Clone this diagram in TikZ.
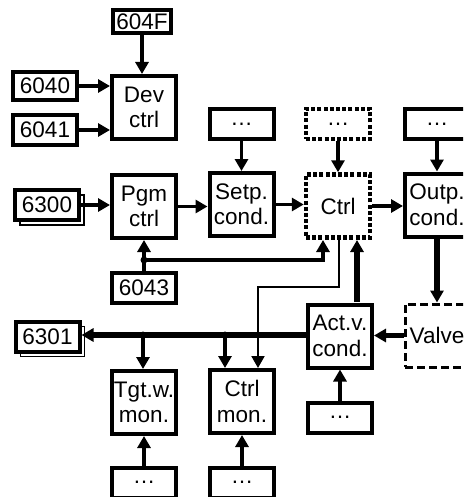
\documentclass[tikz,border=0pt]{standalone}
\usepackage{fontspec}
\setmainfont{Liberation Sans}
\usetikzlibrary{arrows.meta,shadows}
\begin{document}
\begin{tikzpicture}[x=1pt,y=-1pt,
  every node/.style={font=\fontsize{22.5}{25.5}\selectfont},
  bigbox/.style={draw, line width=4pt, fill=white, minimum width=64pt, minimum height=63pt, inner sep=0pt, align=center},
  smallbox/.style={draw, line width=4pt, fill=white, minimum width=64pt, minimum height=30pt, inner sep=0pt, align=center},
  stack/.style={copy shadow={shadow xshift=5pt, shadow yshift=-5pt, draw, fill=white, line width=1.5pt}},
  dotbox/.style={line width=4.5pt, dash pattern=on 4pt off 2.2pt},
  dashbox/.style={line width=3pt, dash pattern=on 8pt off 4pt},
  arr/.style={line width=3.5pt, -{Triangle[length=12pt,width=13pt]}},
  thinarr/.style={line width=2pt, -{Triangle[length=12pt,width=13pt]}},
  jdot/.style={circle, fill=black, inner sep=0pt, minimum size=7pt}
]
\useasboundingbox (0,0) rectangle (463,497);
\clip (0,0) rectangle (463,497);

% top-left group
\node[smallbox, minimum width=58pt, minimum height=23pt] (f604) at (142,21.5) {604F};
\node[bigbox] (dev) at (144,107.5) {Dev\\ctrl};
\node[smallbox, minimum height=28pt] (n6040) at (45,86) {6040};
\node[smallbox] (n6041) at (45,130) {6041};

% second row
\node[smallbox, stack] (n6300) at (47,205) {6300};
\node[bigbox] (pgm) at (144,206.5) {Pgm\\ctrl};
\node[smallbox] (n6043) at (144,287.5) {6043};
\node[bigbox] (setp) at (241.5,204.5) {Setp.\\cond.};
\node[smallbox] (d1) at (241.5,124.5) {…};
\node[bigbox, dotbox] (ctrl) at (338,206) {Ctrl};
\node[smallbox, dotbox] (d2) at (338,124) {…};
\node[bigbox] (outp) at (437,205) {Outp.\\cond.};
\node[smallbox] (d3) at (437,124.5) {…};

% third row
\node[bigbox, dashbox] (valve) at (437,335.5) {Valve};
\node[bigbox] (act) at (340,336) {Act.v.\\cond.};
\node[smallbox, stack] (n6301) at (47.5,336.5) {6301};
\node[smallbox] (d4) at (340,417.5) {…};

% bottom row
\node[bigbox] (tgt) at (144,402.5) {Tgt.w.\\mon.};
\node[bigbox] (cmon) at (242,401.5) {Ctrl\\mon.};
\node[smallbox] (d5) at (144,482.5) {…};
\node[smallbox] (d6) at (242,482.5) {…};

% connectors: top-left
\draw[arr] (f604.south) -- (f604.south |- dev.north);
\draw[arr, line width=4.5pt] (n6040.east) -- (n6040.east -| dev.west);
\draw[arr, line width=4.5pt] (n6041.east) -- (n6041.east -| dev.west);

% row 2
\draw[arr] (n6300.east) -- (n6300.east -| pgm.west);
\draw[arr] (pgm.east) -- (pgm.east -| setp.west);
\draw[arr] (setp.east) -- (setp.east -| ctrl.west);
\draw[arr] (ctrl.east) -- (ctrl.east -| outp.west);
\draw[arr] (d1.south) -- (d1.south |- setp.north);
\draw[arr] (d2.south) -- (d2.south |- ctrl.north);
\draw[arr] (d3.south) -- (d3.south |- outp.north);

% 6043 feedback
\coordinate (j1) at (144,260);
\draw[arr] (n6043.north) -- (n6043.north |- pgm.south);
\draw[arr] (j1) -- (323,260) -- (323,240);
\node[jdot] (jd1) at (j1) {};

% thin line from Ctrl to Ctrl mon
\coordinate (c1) at (339,240);
\draw[thinarr] (c1) -- (339,287) -- (258,287) -- (258,368);

% Act.v. to Ctrl
\coordinate (a1) at (357,302);
\draw[arr, line width=5.5pt] (a1) -- (357,240);

% Outp to Valve
\draw[arr, line width=6.5pt] (outp.south) -- (outp.south |- valve.north);

% Valve to Act
\draw[arr, line width=4.5pt] (valve.west) -- (valve.west -| act.east);

% bus to 6301
\draw[arr, line width=5.5pt] (act.west |- 0,335) -- (n6301.east |- 0,335);
\coordinate (b1) at (143,335);
\coordinate (b2) at (225,335);
\draw[arr] (b1) -- (b1 |- tgt.north);
\draw[arr] (b2) -- (b2 |- cmon.north);
\node[jdot] at (b1) {};
\node[jdot] at (b2) {};

% bottom feeds
\draw[arr] (d4.north) -- (d4.north |- act.south);
\draw[arr] (d5.north) -- (d5.north |- tgt.south);
\draw[arr] (d6.north) -- (d6.north |- cmon.south);
\end{tikzpicture}
\end{document}
